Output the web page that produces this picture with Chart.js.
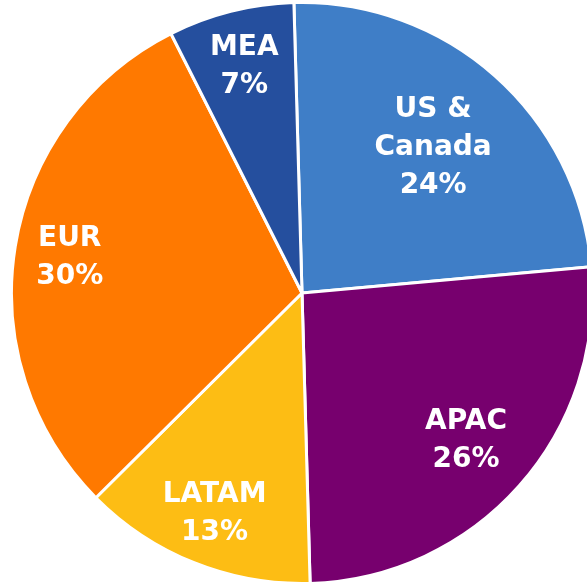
<!DOCTYPE html>
<html>
<head>
<meta charset="utf-8">
<script src="https://cdn.jsdelivr.net/npm/chart.js@4.4.0/dist/chart.umd.min.js"></script>
<style>
  html, body { margin: 0; padding: 0; background: #fff; overflow: hidden; width: 587px; height: 583px; }
  #wrap { position: absolute; left: 10px; top: 1px; width: 584px; height: 584px; }
</style>
</head>
<body>
<div id="wrap"><canvas id="pie" width="584" height="584"></canvas></div>
<script>
// regions, clockwise from the top
var regions = [['US &', 'Canada'], ['APAC'], ['LATAM'], ['EUR'], ['MEA']];
var shares = [24, 26, 13, 30, 7];
var sliceColors = ['#3F7EC7', '#77006E', '#FDBD14', '#FF7900', '#254F9E'];
// how far out (fraction of radius) each label sits
var labelRadius = [0.68, 0.755, 0.81, 0.81, 0.81];

var sliceLabels = {
	id: 'sliceLabels',
	afterDatasetsDraw: function(chart) {
		var ctx = chart.ctx;
		var arcs = chart.getDatasetMeta(0).data;
		ctx.save();
		ctx.fillStyle = '#fff';
		ctx.font = 'bold 28px "DejaVu Sans"';
		ctx.textAlign = 'center';
		ctx.textBaseline = 'middle';
		for (var i = 0; i < arcs.length; i++) {
			var a = arcs[i].getProps(['x', 'y', 'startAngle', 'endAngle', 'outerRadius'], true);
			var mid = (a.startAngle + a.endAngle) / 2;
			var r = a.outerRadius * labelRadius[i];
			var cx = a.x + Math.cos(mid) * r;
			var cy = a.y + Math.sin(mid) * r + 2;
			var lines = regions[i].concat([shares[i] + '%']);
			var lh = 38;
			var top = cy - (lines.length - 1) * lh / 2;
			for (var j = 0; j < lines.length; j++) {
				ctx.fillText(lines[j], cx, top + j * lh);
			}
		}
		ctx.restore();
	}
};

new Chart(document.getElementById('pie'), {
	type: 'pie',
	data: {
		labels: regions.map(function(r) { return r.join(' '); }),
		datasets: [{
			data: shares,
			backgroundColor: sliceColors,
			borderColor: '#fff',
			borderWidth: 3
		}]
	},
	options: {
		responsive: false,
		animation: false,
		rotation: -1.6,
		layout: { padding: 0 },
		plugins: {
			legend: { display: false },
			tooltip: { enabled: false }
		}
	},
	plugins: [sliceLabels]
});
</script>
</body>
</html>
